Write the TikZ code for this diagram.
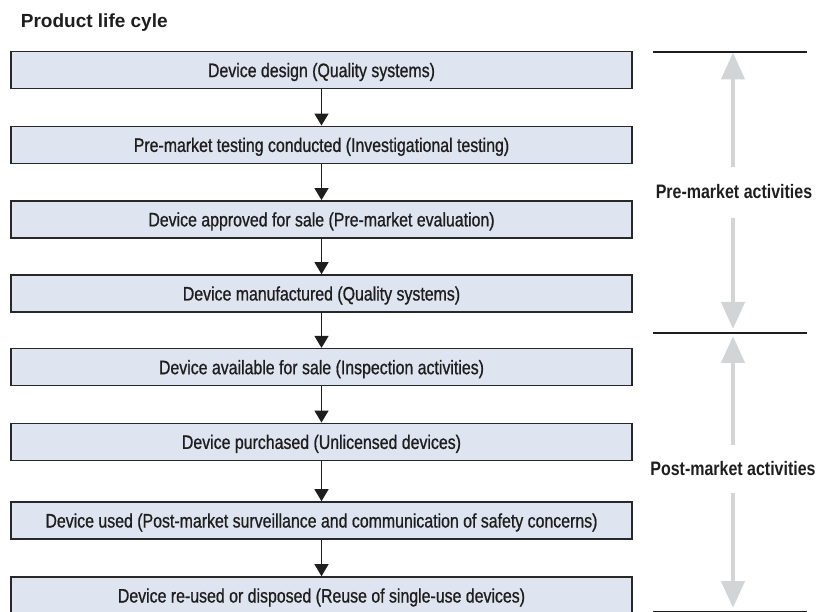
\documentclass[tikz,border=0pt]{standalone}
\usepackage{fontspec}
\setmainfont{Liberation Sans}
\newfontfamily\boxfont[FakeStretch=0.815,FakeBold=0.8]{Liberation Sans}
\newfontfamily\labfont[FakeStretch=0.82]{Liberation Sans}
\usetikzlibrary{arrows.meta}
\definecolor{boxfill}{RGB}{222,228,240}
\definecolor{boxline}{RGB}{40,40,40}
\definecolor{greyarrow}{RGB}{211,212,214}
\definecolor{ink}{RGB}{30,30,30}
\begin{document}
\begin{tikzpicture}[x=1pt,y=-1pt,
  stage/.style={draw=boxline, line width=1.6pt, fill=boxfill, minimum width=621.4pt,
    minimum height=37pt, inner sep=0pt, text=ink,
    font=\boxfont\fontsize{19.5}{23}\selectfont, text height=14pt, text depth=0pt},
  flow/.style={line width=1.3pt, draw=ink, -{Triangle[length=12pt,width=14pt]}},
  span/.style={line width=4.5pt, draw=greyarrow, -{Triangle[length=27pt,width=23pt]}},
  divider/.style={line width=1.6pt, draw=ink},
  phase/.style={font=\labfont\bfseries\fontsize{19.5}{23}\selectfont, inner sep=0pt, text=ink},
  heading/.style={font=\bfseries\fontsize{19}{23}\selectfont, inner sep=0pt, text=ink}]
\useasboundingbox (0,0) rectangle (820,612);

\node[heading, anchor=base west] (title) at (20.7,28) {Product life cyle};

\node[stage] (s1) at (321.5,70.1) {Device design (Quality systems)};
\node[stage] (s2) at (321.5,144.9) {Pre-market testing conducted (Investigational testing)};
\node[stage] (s3) at (321.5,219.4) {Device approved for sale (Pre-market evaluation)};
\node[stage] (s4) at (321.5,293.5) {Device manufactured (Quality systems)};
\node[stage] (s5) at (321.5,367.2) {Device available for sale (Inspection activities)};
\node[stage] (s6) at (321.5,441.9) {Device purchased (Unlicensed devices)};
\node[stage] (s7) at (321.5,520.5) {Device used (Post-market surveillance and communication of safety concerns)};
\node[stage] (s8) at (321.5,595.5) {Device re-used or disposed (Reuse of single-use devices)};

\foreach \a/\b in {s1/s2,s2/s3,s3/s4,s4/s5,s5/s6,s6/s7,s7/s8}
  \draw[flow] (\a.south) -- (\b.north);

% dividers
\coordinate (d1w) at (653,52);   \coordinate (d1e) at (807,52);
\coordinate (d2w) at (653,333);  \coordinate (d2e) at (807,333);
\coordinate (d3w) at (653,612);  \coordinate (d3e) at (807,612);
\draw[divider] (d1w) -- (d1e);
\draw[divider] (d2w) -- (d2e);
\draw[divider] (d3w) -- (d3e);

\node[phase] (pre) at (734,192) {Pre-market activities};
\node[phase] (post) at (733,468.5) {Post-market activities};

\coordinate (a1s) at (733,167); \coordinate (a1e) at (733,52.5);
\coordinate (a2s) at (733,218); \coordinate (a2e) at (733,329);
\coordinate (a3s) at (733,445); \coordinate (a3e) at (733,336);
\coordinate (a4s) at (733,493); \coordinate (a4e) at (733,608);
\draw[span] (a1s) -- (a1e);
\draw[span] (a2s) -- (a2e);
\draw[span] (a3s) -- (a3e);
\draw[span] (a4s) -- (a4e);
\end{tikzpicture}
\end{document}
